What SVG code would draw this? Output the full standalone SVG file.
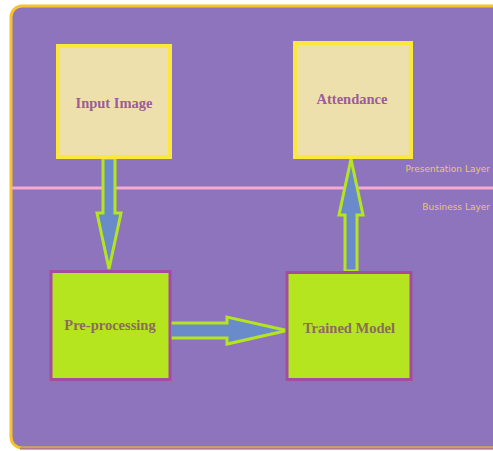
<svg xmlns="http://www.w3.org/2000/svg" width="493" height="451" viewBox="0 0 493 451">
<style>
.frame{fill:#8D74BD;stroke:#F8C22C;stroke-width:3}
.pres rect{fill:#EEE0AC;stroke:#FCE83A;stroke-width:4}
.biz rect{fill:#B5E51E;stroke:#A44C9E;stroke-width:3}
.lbl{font-family:"Liberation Serif",serif;font-weight:bold;font-size:14.5px;text-anchor:middle}
.pres text{fill:#9C5B9B}
.biz text{fill:#8A6C5C}
.layer{font-family:"DejaVu Sans","Open Sans",sans-serif;font-size:9px;fill:#EAC870;text-anchor:end}
.arrow{fill:#6A8BC9;stroke:#B5E51E;stroke-width:3;stroke-linejoin:miter}
</style>
<rect x="0" y="0" width="493" height="451" fill="#FFFFFF"/>
<rect class="frame" x="11" y="6" width="500" height="442" rx="11"/>
<line x1="20" y1="448.5" x2="493" y2="448.5" stroke="#B07C8C" stroke-width="2"/>
<line x1="11" y1="188" x2="493" y2="188" stroke="#F5AAD2" stroke-width="3"/>
<text class="layer" x="490" y="172">Presentation Layer</text>
<text class="layer" x="490" y="210">Business Layer</text>
<g id="connectors">
<polygon class="arrow" points="103,158 115,158 115,213 121,213 109,269 97,213 103,213"/>
<polygon class="arrow" points="345,271 357,271 357,215 363,215 351,159 339,215 345,215"/>
<polygon class="arrow" points="170,323 227,323 227,317 287,330.5 227,344 227,338 170,338"/>
</g>
<g id="input-image" class="pres">
<rect x="58" y="46" width="112" height="111"/>
<text class="lbl" x="114" y="108">Input Image</text>
</g>
<g id="attendance" class="pres">
<rect x="295" y="43" width="116" height="114"/>
<text class="lbl" x="352" y="104">Attendance</text>
</g>
<g id="pre-processing" class="biz">
<rect x="51" y="271.5" width="119" height="108"/>
<text class="lbl" x="110" y="330">Pre-processing</text>
</g>
<g id="trained-model" class="biz">
<rect x="287" y="272.5" width="124" height="107"/>
<text class="lbl" x="349" y="333">Trained Model</text>
</g>
</svg>
